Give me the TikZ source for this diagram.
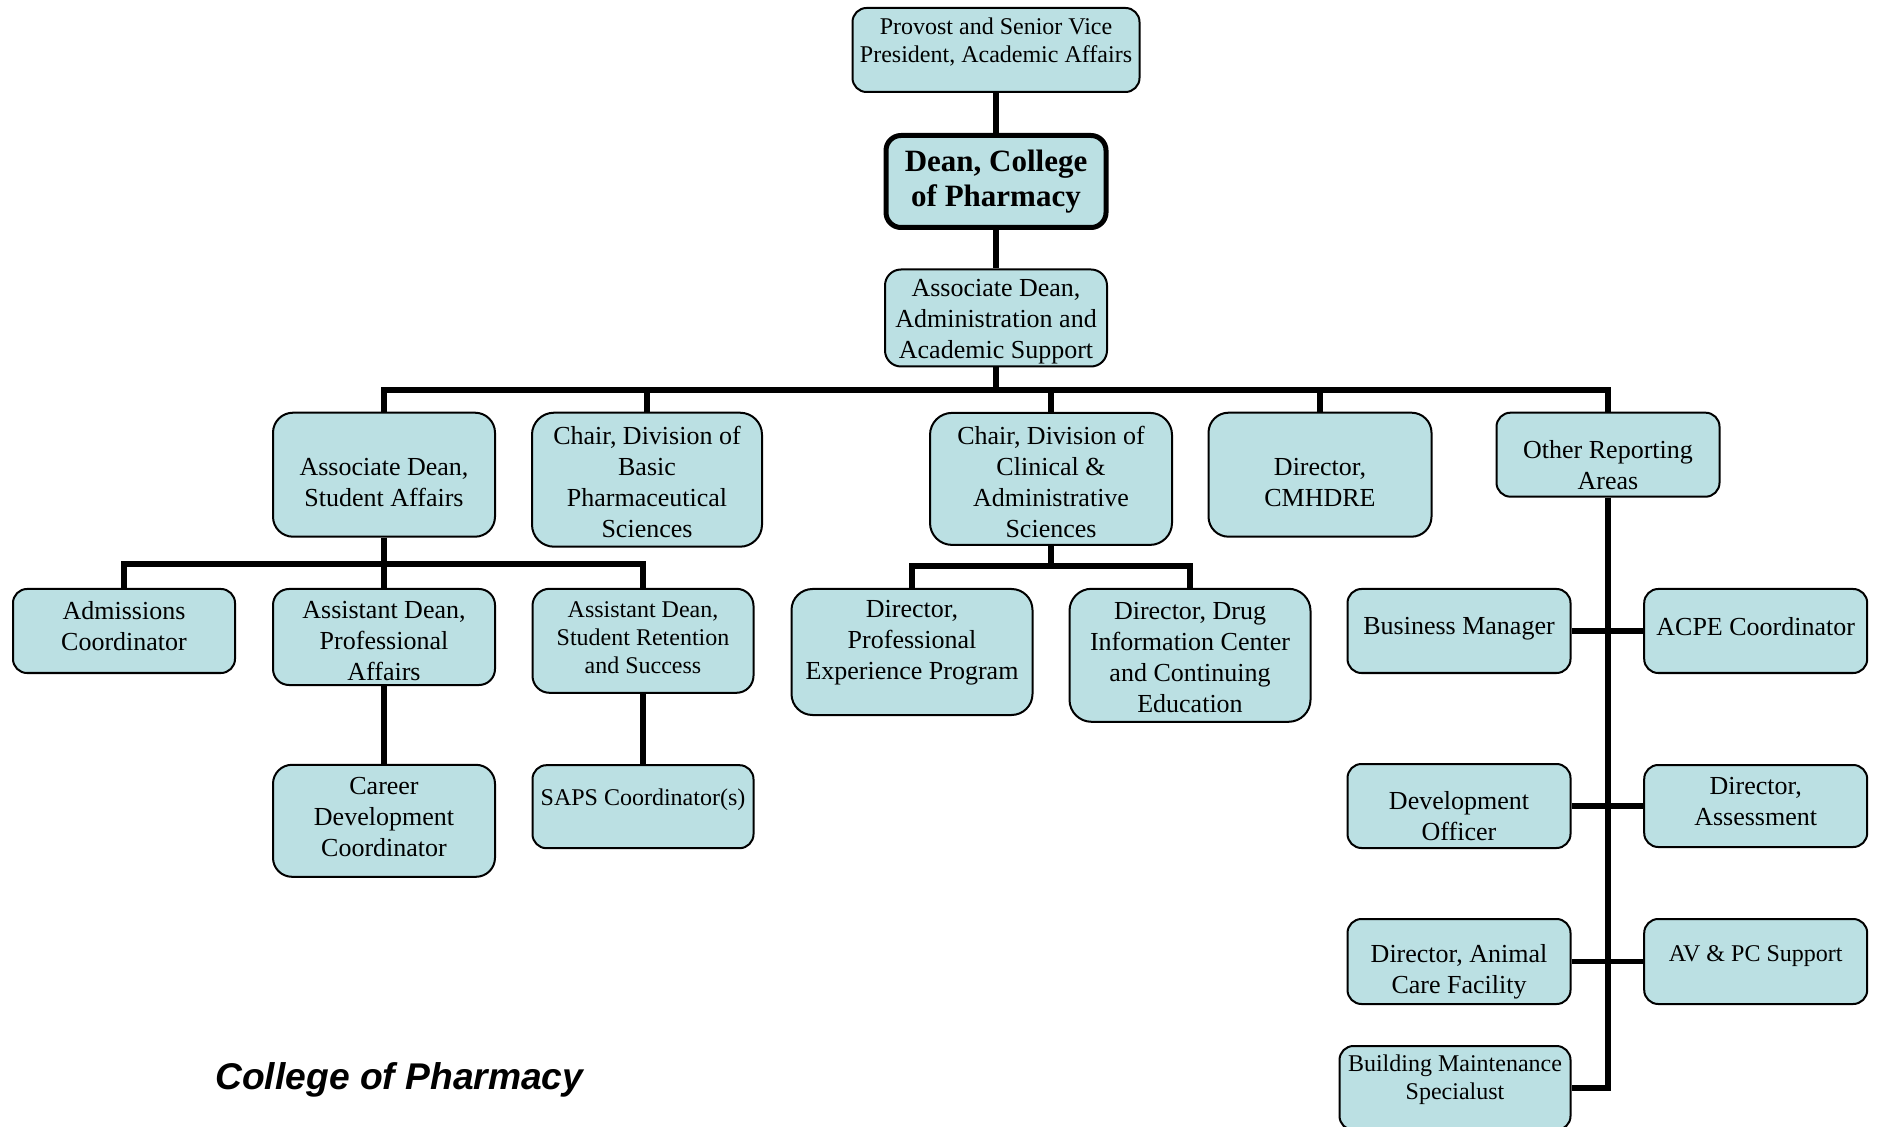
\documentclass[tikz,border=0pt]{standalone}
\usepackage{fontspec}
\setmainfont{Liberation Serif}
\newfontfamily\titlefont{Liberation Sans}
\definecolor{boxfill}{RGB}{187,224,227}
\newcommand\fntN{\fontsize{13}{15.5}\selectfont}
\newcommand\fntS{\fontsize{12}{14}\selectfont}
\newcommand\fntD{\fontsize{15.5}{17.5}\selectfont\bfseries}
\begin{document}
\begin{tikzpicture}[x=0.5pt,y=-0.5pt,
  box/.style={draw=black, fill=boxfill, line width=1pt, inner sep=0pt},
  bx/.style n args={3}{box, minimum width=#1, minimum height=#2, rounded corners=#3},
  tx/.style={align=center, font=\fntN, inner sep=0pt, text=black},
  txs/.style={tx, font=\fntS},
  conn/.style={line width=2.8pt, draw=black}
]
\useasboundingbox (0,0) rectangle (1878,1127);
\clip (0,0) rectangle (1878,1127);

% top chain
\node[bx={143.5pt}{42pt}{7pt}, label={[txs,yshift=4pt]center:{Provost and Senior Vice\\President, Academic Affairs}}] (prov) at (996,50) {};
\node[bx={110pt}{46pt}{7.5pt}, line width=2.5pt, label={[tx,font=\fntD]center:{Dean, College\\of Pharmacy}}] (dean) at (996,181.5) {};
\node[bx={111pt}{48.5pt}{8pt}, label={[tx,yshift=-2pt]center:{Associate Dean,\\Administration and\\Academic Support}}] (adm) at (996,318) {};

% row 2
\node[bx={111pt}{62pt}{10pt}, label={[tx,yshift=-3.9pt]center:{Associate Dean,\\Student Affairs}}] (sa) at (384,474.7) {};
\node[bx={115pt}{67pt}{11pt}, label={[tx,yshift=-1pt]center:{Chair, Division of\\Basic\\Pharmaceutical\\Sciences}}] (basic) at (647,479.7) {};
\node[bx={121pt}{66pt}{11pt}, label={[tx,yshift=-1.5pt]center:{Chair, Division of\\Clinical \&\\Administrative\\Sciences}}] (clin) at (1051,478.9) {};
\node[bx={111.5pt}{62pt}{10pt}, label={[tx,yshift=-3.9pt]center:{Director,\\CMHDRE}}] (cmh) at (1320,474.7) {};
\node[bx={111.5pt}{42pt}{7pt}, label={[tx,yshift=-5.3pt]center:{Other Reporting\\Areas}}] (oth) at (1608,454.7) {};

% row 3 left
\node[bx={111pt}{42pt}{7pt}, label={[tx,yshift=2.6pt]center:{Admissions\\Coordinator}}] (adc) at (124,631) {};
\node[bx={111pt}{48pt}{8pt}, label={[tx,yshift=-1.8pt]center:{Assistant Dean,\\Professional\\Affairs}}] (pa) at (384,637) {};
\node[bx={110.5pt}{52pt}{8.5pt}, label={[txs,yshift=1.5pt]center:{Assistant Dean,\\Student Retention\\and Success}}] (srs) at (643,640.8) {};
\node[bx={111pt}{56pt}{9.5pt}, label={[tx,yshift=1.8pt]center:{Career\\Development\\Coordinator}}] (career) at (384,820.8) {};
\node[bx={110.5pt}{41.5pt}{7pt}, label={[txs,yshift=3.3pt]center:{SAPS Coordinator(s)}}] (saps) at (643,806.7) {};

% row 3 middle
\node[bx={120.5pt}{63pt}{10.5pt}, label={[tx,yshift=4.9pt]center:{Director,\\Professional\\Experience Program}}] (pep) at (912,652) {};
\node[bx={120.5pt}{66.5pt}{11pt}, label={[tx,yshift=-1.1pt]center:{Director, Drug\\Information Center\\and Continuing\\Education}}] (drug) at (1190,655.3) {};

% right column
\node[bx={111.5pt}{42pt}{7pt}, label={[tx,yshift=1pt]center:{Business Manager}}] (bm) at (1459,631) {};
\node[bx={111.5pt}{42pt}{7pt}, label={[tx,yshift=2.2pt]center:{ACPE Coordinator}}] (acpe) at (1755.7,631) {};
\node[bx={111.5pt}{42pt}{7pt}, label={[tx,yshift=-5.1pt]center:{Development\\Officer}}] (dev) at (1459,806) {};
\node[bx={111.5pt}{41pt}{7pt}, label={[tx,yshift=2.4pt]center:{Director,\\Assessment}}] (assess) at (1755.7,806) {};
\node[bx={111.5pt}{42.5pt}{7pt}, label={[tx,yshift=-5.2pt]center:{Director, Animal\\Care Facility}}] (animal) at (1459,961.5) {};
\node[bx={111.5pt}{42.5pt}{7pt}, label={[txs,yshift=2.5pt]center:{AV \& PC Support}}] (av) at (1755.7,961.5) {};
\node[bx={115.5pt}{42pt}{7pt}, label={[txs,yshift=4pt]center:{Building Maintenance\\Specialust}}] (bldg) at (1455,1088) {};

% title
\node[anchor=west, inner sep=0pt, font=\titlefont\fontsize{18.6}{22}\selectfont\bfseries\itshape] (title) at (215,1080) {College of Pharmacy};

% connectors
\coordinate (bus) at (0,390);
\coordinate (sabus) at (0,564);
\coordinate (clbus) at (0,566);
\draw[conn] (prov.south) -- (dean.north);
\draw[conn] (dean.south) -- (adm.north);
\draw[conn] (adm.south) -- (adm.south |- bus);
\draw[conn] (sa.north) -- (sa.north |- bus) -| (oth.north);
\foreach \n in {basic,clin,cmh} \draw[conn] (\n.north) -- (\n.north |- bus);

\draw[conn] (sa.south) -- (sa.south |- sabus);
\draw[conn] (adc.north) -- (adc.north |- sabus) -| (srs.north);
\draw[conn] (pa.north) -- (pa.north |- sabus);
\draw[conn] (pa.south) -- (career.north);
\draw[conn] (srs.south) -- (saps.north);

\draw[conn] (clin.south) -- (clin.south |- clbus);
\draw[conn] (pep.north) -- (pep.north |- clbus) -| (drug.north);

\draw[conn] (oth.south) |- (bldg.east);
\draw[conn] (bm.east) -- (acpe.west);
\draw[conn] (dev.east) -- (dev.east -| assess.west);
\draw[conn] (animal.east) -- (av.west);
\end{tikzpicture}
\end{document}
